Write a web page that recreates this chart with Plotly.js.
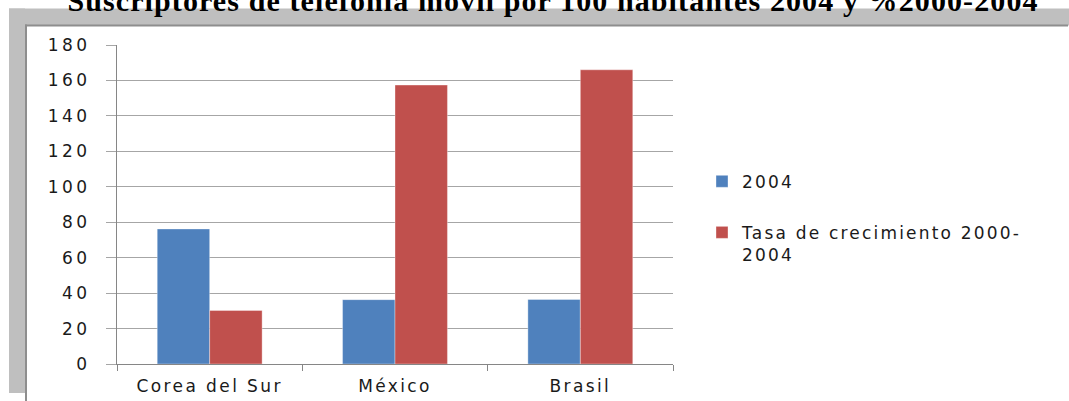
<!DOCTYPE html>
<html>
<head>
<meta charset="utf-8">
<script src="https://cdn.plot.ly/plotly-3.0.1.min.js"></script>
<style>
html,body{margin:0;padding:0;background:#fff;}
#chart{width:1069px;height:401px;}
.xtick text{letter-spacing:2.4px;}
.ytick text{letter-spacing:3.5px;}
.legendtext, .legendtext tspan, g[class^="legend"] text, g[class^="legend"] tspan{letter-spacing:2.2px !important;}
g[class^="legend"] .scrollbox, g[class^="legend"] g{clip-path:none !important;}
.gtitle, .gtitle tspan{letter-spacing:1.1px;}
</style>
</head>
<body>
<div id="chart"></div>
<script>
var categories = ["Corea del Sur", "México", "Brasil"];
var series2004 = [76.2, 36.3, 36.4];
var seriesTasa = [30.2, 157.4, 166];
var seriesNames = ["2004", "Tasa de crecimiento 2000-<br>2004"];
var yTickVals = [0, 20, 40, 60, 80, 100, 120, 140, 160, 180];
var titleText = "Suscriptores de telefonía móvil por 100 habitantes 2004 y %2000-2004";

var L = 117, R = 673, T = 45.4, B = 364;
function px(x){ return (x - L) / (R - L); }
function py(y){ return (B - y) / (B - T); }

var font = "DejaVu Sans, Verdana, sans-serif";
var gray = "#bfbfbf", dark = "#8e8e8e";

var shapes = [
  {type:"rect", xref:"paper", yref:"paper", x0:px(9), x1:px(1069), y0:py(26), y1:py(9), fillcolor:gray, line:{width:0}},
  {type:"rect", xref:"paper", yref:"paper", x0:px(9), x1:px(25), y0:py(393), y1:py(9), fillcolor:gray, line:{width:0}},
  {type:"rect", xref:"paper", yref:"paper", x0:px(25), x1:px(1068), y0:py(27), y1:py(25), fillcolor:dark, line:{width:0}},
  {type:"rect", xref:"paper", yref:"paper", x0:px(25), x1:px(27), y0:py(401), y1:py(25), fillcolor:dark, line:{width:0}}
];

var data = [
  {type:"bar", x:categories, y:series2004, name:seriesNames[0],
   marker:{color:"#4F81BD", line:{color:"rgba(255,255,255,0.35)", width:1}}, legend:"legend"},
  {type:"bar", x:categories, y:seriesTasa, name:seriesNames[1],
   marker:{color:"#C0504D", line:{color:"rgba(255,255,255,0.35)", width:1}}, legend:"legend2"}
];

var layout = {
  width:1069, height:401,
  margin:{l:L, r:1069-R, t:T, b:401-B, pad:0},
  paper_bgcolor:"#ffffff", plot_bgcolor:"rgba(0,0,0,0)",
  title:{text:"<b>"+titleText+"</b>", font:{family:"Liberation Serif, Times New Roman, serif", size:30, color:"#000"},
         x:553/1069, xanchor:"center", xref:"container", y:1, yanchor:"middle", yref:"container"},
  barmode:"group", bargap:0.434, bargroupgap:0,
  showlegend:true,
  legend:{x:px(702), y:py(164), xanchor:"left", yanchor:"top", bgcolor:"rgba(0,0,0,0)",
          font:{family:font, size:17, color:"#1a1a1a"}, valign:"top"},
  legend2:{x:px(702), y:py(215), xanchor:"left", yanchor:"top", bgcolor:"rgba(0,0,0,0)",
          font:{family:font, size:17, color:"#1a1a1a"}, valign:"top"},
  xaxis:{type:"category", showline:true, linecolor:"#868686", linewidth:1,
         ticks:"outside", tickson:"boundaries", ticklen:6, tickcolor:"#868686",
         showgrid:false, zeroline:false,
         tickfont:{family:font, size:17, color:"#1a1a1a"}, ticklabelstandoff:7},
  yaxis:{range:[0,180], tickvals:yTickVals, showline:true, linecolor:"#868686", linewidth:1,
         ticks:"outside", ticklen:10, tickcolor:"#a6a6a6",
         showgrid:true, gridcolor:"#a6a6a6", gridwidth:1, zeroline:false,
         tickfont:{family:font, size:17, color:"#1a1a1a"}, ticklabelstandoff:12},
  shapes:shapes
};

Plotly.newPlot("chart", data, layout, {displayModeBar:false, staticPlot:true});
</script>
</body>
</html>
